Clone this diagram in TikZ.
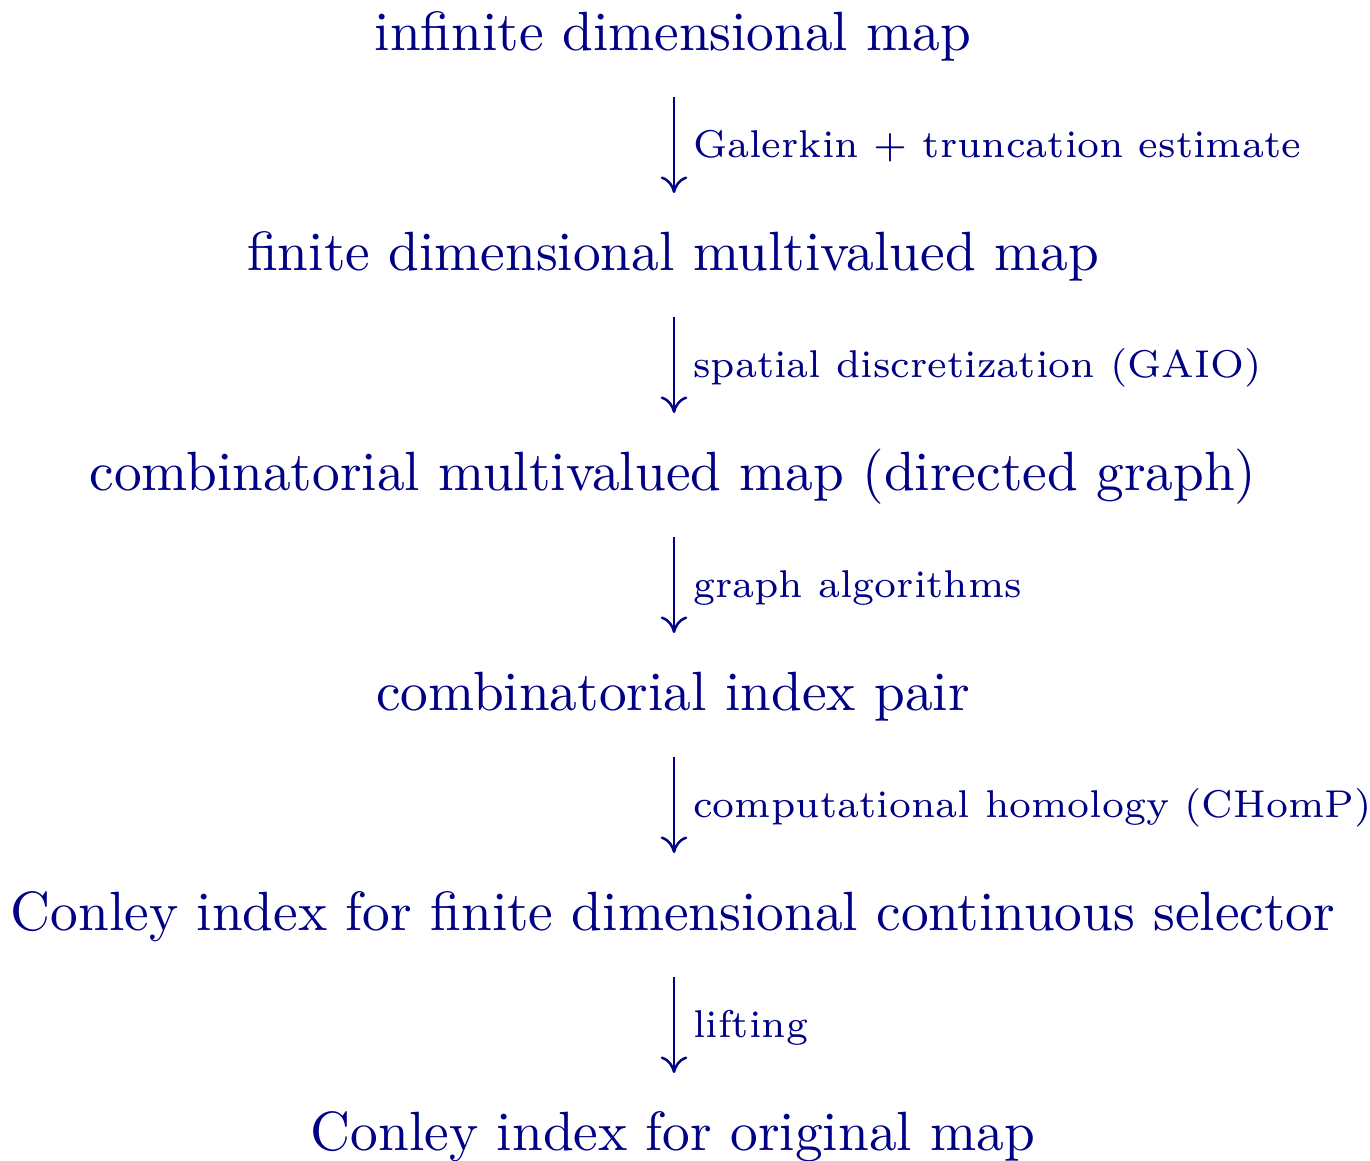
\documentclass[tikz,border=0pt]{standalone}
\usetikzlibrary{arrows.meta}
\definecolor{navy}{rgb}{0,0,0.52}
\begin{document}
\begin{tikzpicture}[x=0.1808pt,y=-0.1808pt,
  every node/.style={text=navy},
  maintext/.style={anchor=base,inner sep=0pt},
  lbl/.style={anchor=base west,inner sep=0pt,font=\scriptsize},
  arr/.style={draw=navy,line width=0.45pt,-{To[length=3pt,width=4.8pt]}}]
\useasboundingbox (0,0) rectangle (1370,1160);
\node[maintext] (n1) at (673,50) {infinite dimensional map};
\node[maintext] (n2) at (673,270) {finite dimensional multivalued map};
\node[maintext] (n3) at (673,490) {combinatorial multivalued map (directed graph)};
\node[maintext] (n4) at (673,710) {combinatorial index pair};
\node[maintext] (n5) at (673,930) {Conley index for finite dimensional continuous selector};
\node[maintext] (n6) at (673,1150) {Conley index for original map};
\foreach \i/\t in {1/Galerkin + truncation estimate,2/spatial discretization (GAIO),3/graph algorithms,4/computational homology (CHomP),5/lifting}{
  \coordinate (s\i) at (674,{97+220*(\i-1)});
  \coordinate (e\i) at (674,{193+220*(\i-1)});
  \draw[arr] (s\i) -- (e\i);
  \node[lbl] (l\i) at (692,{157+220*(\i-1)}) {\t};
}
\end{tikzpicture}
\end{document}
